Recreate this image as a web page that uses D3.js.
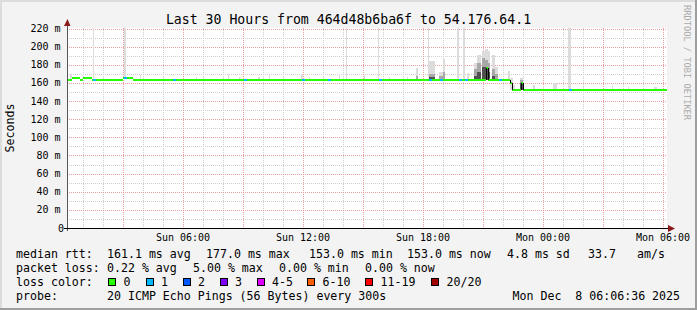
<!DOCTYPE html>
<html>
<head>
<meta charset="utf-8">
<script src="https://cdn.jsdelivr.net/npm/d3@7"></script>
<style>
  body { margin: 0; background: #f3f3f3; }
  svg { display: block; }
  text { font-family: "DejaVu Sans Mono", monospace; fill: #000; }
</style>
</head>
<body>
<svg id="chart" width="697" height="310"></svg>
<script>
// graph window (local time)
var start = new Date(2025, 11, 7, 0, 12),
    end = new Date(2025, 11, 8, 6, 12);

var title = "Last 30 Hours from 464d48b6ba6f to 54.176.64.1";
var yTicks = [0, 20, 40, 60, 80, 100, 120, 140, 160, 180, 200, 220];
var yTickLabels = ["0", "20 m", "40 m", "60 m", "80 m", "100 m", "120 m", "140 m", "160 m", "180 m", "200 m", "220 m"];

// median rtt (ms) as steps: [hours from start, hours from start, ms]
var medianSteps = [
  [0, 0.25, 163.6], [0.25, 0.65, 165.3], [0.65, 0.8, 163.6], [0.8, 1.25, 165.3],
  [1.25, 2.8, 163.6], [2.8, 3.3, 165.3], [3.3, 20.95, 163.6], [20.95, 21.05, 176.9],
  [21.05, 22.15, 163.6], [22.15, 22.25, 160.3], [22.25, 22.7, 152.6],
  [22.7, 22.8, 160.3], [22.8, 30, 152.6]
];

// times (hours from start) where 1 of 20 pings was lost
var lossOneAt = [1.3, 2.85, 5.3, 8.85, 11.75, 13.05, 15.6, 18.1, 18.65, 19.6, 19.9, 21.6, 25.1];

// smoke: [h0, h1, min ping, max ping, upper quartile, upper mid]
var smoke = [
  [0.15, 0.25, 163.6, 170, 0, 0], [1.3, 1.35, 163.6, 222, 0, 0], [2.85, 2.95, 165.3, 222, 0, 0],
  [3.65, 3.72, 163.6, 169, 0, 0], [6.45, 6.52, 163.6, 166.6, 0, 0], [8.05, 8.12, 163.6, 170, 0, 0],
  [8.6, 8.67, 163.6, 166.6, 0, 0], [9.55, 9.65, 163.6, 166.6, 0, 0], [10.1, 10.17, 163.6, 169, 0, 0],
  [11.7, 11.8, 163.6, 170, 0, 0], [12.1, 12.17, 163.6, 166, 0, 0], [13.6, 13.67, 163.6, 170, 0, 0],
  [13.95, 14.0, 163.6, 222, 0, 0], [14.85, 14.92, 163.6, 169, 0, 0], [15.55, 15.6, 163.6, 222, 0, 0],
  [16.1, 16.17, 163.6, 166, 0, 0], [17.0, 17.07, 163.6, 166, 0, 0], [17.45, 17.55, 163.6, 176, 168, 0],
  [18.05, 18.1, 163.6, 222, 0, 0], [18.1, 18.4, 163.6, 184, 170, 166], [18.6, 18.8, 163.6, 172, 168, 0],
  [18.8, 18.9, 163.6, 186.5, 172, 0], [19.5, 19.6, 163.6, 222, 0, 0], [19.8, 19.9, 163.6, 222, 0, 0],
  [20.0, 20.1, 163.6, 171, 0, 0], [20.35, 20.5, 163.6, 182, 175, 168], [20.5, 20.7, 163.6, 191, 182, 172],
  [20.75, 20.9, 163.6, 195, 188, 178], [20.9, 21.05, 163.6, 197, 185, 177], [21.05, 21.15, 163.6, 195, 182, 172],
  [21.25, 21.4, 163.6, 191, 175, 168], [21.4, 21.55, 163.6, 177, 170, 0], [22.05, 22.15, 163.6, 173, 0, 0],
  [22.15, 22.3, 152.6, 165, 0, 0], [22.3, 22.4, 152.6, 158, 0, 0], [22.65, 22.8, 152.6, 165, 163, 160],
  [23.3, 23.4, 152.6, 158, 0, 0], [23.8, 23.85, 152.6, 157, 0, 0], [24.3, 24.5, 152.6, 160, 0, 0],
  [25.05, 25.2, 152.6, 222, 0, 0], [25.8, 25.85, 152.6, 155.5, 0, 0], [27.25, 27.3, 152.6, 158, 0, 0],
  [28.05, 28.1, 152.6, 155.5, 0, 0], [29.35, 29.5, 152.6, 156, 0, 0]
];

var rttStats = ["161.1 ms avg", "177.0 ms max", "153.0 ms min", "153.0 ms now", "4.8 ms sd", "33.7", "am/s"];
var lossStats = ["0.22 % avg", "5.00 % max", "0.00 % min", "0.00 % now"];
var lossLevels = ["0", "1", "2", "3", "4-5", "6-10", "11-19", "20/20"];
var lossColors = ["#26ff00", "#00b8ff", "#0059ff", "#7e00ff", "#dd00ff", "#ff5e00", "#ff0000", "#a10000"];
var probeText = "20 ICMP Echo Pings (56 Bytes) every 300s";
var stamp = "Mon Dec  8 06:06:36 2025";

var svg = d3.select("#chart");
var pLeft = 67, pRight = 667, pTop = 28, pBottom = 228;

function at(h) { return new Date(+start + h * 3600e3); }

var x = d3.scaleTime().domain([start, end]).range([pLeft, pRight]);
var y = d3.scaleLinear().domain([0, 220]).range([pBottom, 28.5]);

// background + shaded frame
svg.append("rect").attr("width", 697).attr("height", 310).attr("fill", "#f3f3f3");
svg.append("path").attr("d", "M1,309V1H696").attr("fill", "none").attr("stroke", "#dcdcdc").attr("stroke-width", 2);
svg.append("path").attr("d", "M0,309H696V0").attr("fill", "none").attr("stroke", "#9e9e9e").attr("stroke-width", 2);

svg.append("rect").attr("x", pLeft).attr("y", pTop).attr("width", pRight - pLeft).attr("height", pBottom - pTop)
  .attr("fill", "#fff");

// grid
var grid = svg.append("g").attr("shape-rendering", "crispEdges").attr("stroke-dasharray", "1,1");
d3.range(10, 221, 20).forEach(function(v) {
  grid.append("line").attr("x1", pLeft).attr("x2", pRight).attr("y1", Math.round(y(v)) + 0.5).attr("y2", Math.round(y(v)) + 0.5)
    .attr("stroke", "#cfcfcf");
});
x.ticks(d3.timeHour.every(1)).forEach(function(t) {
  if (t.getHours() % 3 == 0) return;
  grid.append("line").attr("x1", Math.round(x(t)) + 0.5).attr("x2", Math.round(x(t)) + 0.5).attr("y1", pTop).attr("y2", pBottom)
    .attr("stroke", "#cfcfcf");
});
yTicks.forEach(function(v) {
  if (v == 0) return;
  grid.append("line").attr("x1", pLeft).attr("x2", pRight).attr("y1", Math.round(y(v)) + 0.5).attr("y2", Math.round(y(v)) + 0.5)
    .attr("stroke", "#eea0a0");
});
x.ticks(d3.timeHour.every(3)).forEach(function(t) {
  grid.append("line").attr("x1", Math.round(x(t)) + 0.5).attr("x2", Math.round(x(t)) + 0.5).attr("y1", pTop).attr("y2", pBottom)
    .attr("stroke", "#eea0a0");
});

// smoke
function medianAt(h) {
  var s = medianSteps.find(function(d) { return h >= d[0] && h < d[1]; });
  return s ? s[2] : medianSteps[medianSteps.length - 1][2];
}
var smokeG = svg.append("g").attr("shape-rendering", "crispEdges");
var shades = [["#dcdcdc", 3], ["#a8a8a8", 4], ["#505050", 5]];
shades.forEach(function(sh) {
  smokeG.selectAll(null)
    .data(smoke.filter(function(d) { return d[sh[1]] > 0; }))
    .enter()
    .append("rect")
    .attr("x", function(d) { return x(at(d[0])); })
    .attr("width", function(d) { return Math.max(1, x(at(d[1])) - x(at(d[0]))); })
    .attr("y", function(d) { return Math.max(pTop, y(d[sh[1]])); })
    .attr("height", function(d) { return y(d[2]) - Math.max(pTop, y(d[sh[1]])); })
    .attr("fill", sh[0]);
});

// median line, coloured by loss
var med = svg.append("g").attr("shape-rendering", "crispEdges");
med.selectAll(null)
  .data(medianSteps)
  .enter()
  .append("rect")
  .attr("x", function(d) { return x(at(d[0])); })
  .attr("width", function(d) { return x(at(d[1])) - x(at(d[0])); })
  .attr("y", function(d) { return y(d[2]) - 1; })
  .attr("height", 2)
  .attr("fill", lossColors[0]);
med.selectAll(null)
  .data(lossOneAt)
  .enter()
  .append("rect")
  .attr("x", function(d) { return x(at(d)); })
  .attr("width", function(d) { return x(at(d + 0.15)) - x(at(d)); })
  .attr("y", function(d) { return y(medianAt(d)) - 1; })
  .attr("height", 2)
  .attr("fill", lossColors[1]);
medianSteps.forEach(function(d, i) {
  if (i == 0) return;
  var p = medianSteps[i - 1][2];
  if (Math.abs(p - d[2]) < 2) return;
  var xx = Math.round(x(at(d[0]))) + 0.5;
  med.append("line").attr("x1", xx).attr("x2", xx).attr("y1", y(p)).attr("y2", y(d[2]))
    .attr("stroke", "#000").attr("stroke-width", 1);
});

// axes
svg.append("line").attr("x1", pLeft + 0.5).attr("x2", pLeft + 0.5).attr("y1", pBottom + 3).attr("y2", 22)
  .attr("stroke", "#555").attr("shape-rendering", "crispEdges");
svg.append("line").attr("x1", pLeft - 3).attr("x2", pRight + 4).attr("y1", pBottom + 0.5).attr("y2", pBottom + 0.5)
  .attr("stroke", "#000").attr("shape-rendering", "crispEdges");
svg.append("path").attr("d", "M64,26L70.5,26L67.5,19Z").attr("fill", "#8b1a1a");
svg.append("path").attr("d", "M668,225L668,232L675,228.5Z").attr("fill", "#8b1a1a");

// y labels
svg.selectAll(null)
  .data(yTicks)
  .enter()
  .append("text")
  .attr("x", function(d) { return d == 0 ? 64 : 60.5; })
  .attr("y", function(d) { return y(d) + 3.5; })
  .attr("text-anchor", "end")
  .attr("font-size", "10px")
  .text(function(d, i) { return yTickLabels[i]; });

// x labels
var fmt = d3.timeFormat("%a %H:%M");
svg.selectAll(null)
  .data(x.ticks(d3.timeHour.every(6)))
  .enter()
  .append("text")
  .attr("x", function(d) { return x(d); })
  .attr("y", 241)
  .attr("text-anchor", "middle")
  .attr("font-size", "10px")
  .text(function(d) { return fmt(d); });

// title, unit, watermark
svg.append("text").attr("x", 348.5).attr("y", 24).attr("text-anchor", "middle").attr("font-size", "13.2px").text(title);
svg.append("text").attr("transform", "translate(14,128) rotate(-90)").attr("text-anchor", "middle")
  .attr("font-size", "11.6px").text("Seconds");
svg.append("text").attr("transform", "translate(684,5) rotate(90)").attr("font-size", "8.7px")
  .style("fill", "#ababab").text("RRDTOOL / TOBI OETIKER");

// legend
var lf = "11.6px";
var rows = [258, 272, 286, 300];
function put(tx, xx, yy) {
  svg.append("text").attr("x", xx).attr("y", yy).attr("font-size", lf).attr("xml:space", "preserve").text(tx);
}
put("median rtt:", 16, rows[0]);
var rttCols = [107, 206, 309, 407, 507, 588, 637];
rttStats.forEach(function(s, i) { put(s, rttCols[i], rows[0]); });
put("packet loss:", 16, rows[1]);
var lossCols = [107, 193, 279, 365];
lossStats.forEach(function(s, i) { put(s, lossCols[i], rows[1]); });
put("loss color:", 16, rows[2]);
var swCols = [108, 145.5, 182.5, 219.5, 256.5, 307, 365, 431];
lossLevels.forEach(function(s, i) {
  svg.append("rect").attr("x", swCols[i] + 0.5).attr("y", 278.5).attr("width", 7).attr("height", 7)
    .attr("fill", lossColors[i]).attr("stroke", "#000").attr("shape-rendering", "crispEdges");
  put(s, swCols[i] + 15.5, rows[2]);
});
put("probe:", 16, rows[3]);
put(probeText, 107, rows[3]);
put(stamp, 512.5, rows[3]);
</script>
</body>
</html>
